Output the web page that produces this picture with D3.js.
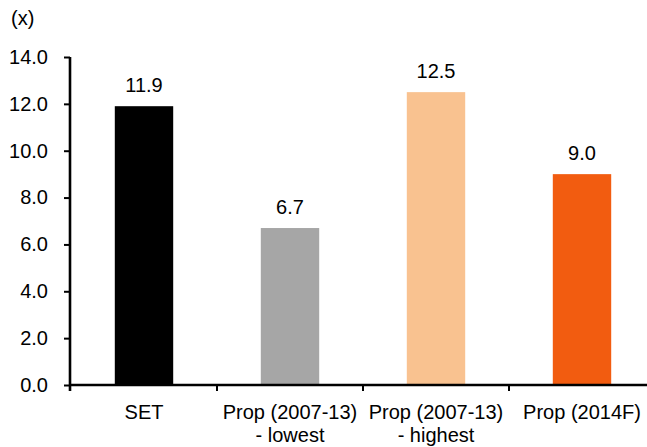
<!DOCTYPE html>
<html>
<head>
<meta charset="utf-8">
<script src="https://cdn.jsdelivr.net/npm/d3@7"></script>
<style>
  html, body { margin: 0; padding: 0; background: #fff; }
  svg { display: block; }
  text { font-family: "Liberation Sans", Arial, sans-serif; fill: #000; }
</style>
</head>
<body>
<svg id="chart" width="647" height="447"></svg>
<script>
// P/E multiples (x)
const categories = ["SET", "Prop (2007-13)|- lowest", "Prop (2007-13)|- highest", "Prop (2014F)"];
const values = [11.9, 6.7, 12.5, 9.0];
const barColors = ["#000000", "#a6a6a6", "#f9c290", "#f25c10"];
const yTicks = [0, 2, 4, 6, 8, 10, 12, 14];

const svg = d3.select("#chart");
const fontSize = 20;

const x = d3.scaleBand()
  .domain(categories)
  .range([71, 655])
  .paddingInner(0.6)
  .paddingOuter(0.3);

const y = d3.scaleLinear()
  .domain([0, 14])
  .range([385, 57]);

// bars
svg.append("g")
  .selectAll("rect")
  .data(categories)
  .join("rect")
  .attr("x", d => x(d))
  .attr("y", (d, i) => y(values[i]))
  .attr("width", x.bandwidth())
  .attr("height", (d, i) => y(0) - y(values[i]))
  .attr("fill", (d, i) => barColors[i]);

// value labels
svg.append("g")
  .selectAll("text")
  .data(categories)
  .join("text")
  .attr("x", d => x(d) + x.bandwidth() / 2)
  .attr("y", (d, i) => y(values[i]) - 14.5)
  .attr("text-anchor", "middle")
  .style("font-size", fontSize + "px")
  .text((d, i) => values[i].toFixed(1));

// y axis
const yAxis = svg.append("g")
  .attr("transform", `translate(${x.range()[0] - 1},0)`)
  .call(d3.axisLeft(y).tickValues(yTicks).tickSize(6).tickPadding(16).tickFormat(d3.format(".1f")));
yAxis.select(".domain")
  .attr("stroke", "#000")
  .attr("stroke-width", 2.6)
  .attr("d", `M0,${y(14)}V${y(0) + 6}`);
yAxis.selectAll(".tick line").attr("stroke", "#000").attr("stroke-width", 2);
yAxis.selectAll(".tick text")
  .style("font-size", fontSize + "px")
  .style("font-family", "'Liberation Sans', Arial, sans-serif")
  .attr("fill", "#000");

// x axis: line with ticks at category boundaries
const step = x.step();
const boundaries = categories.map(d => x(d) - step * x.paddingOuter());
const xAxis = svg.append("g");
xAxis.append("line")
  .attr("x1", x.range()[0] - 2)
  .attr("x2", 647)
  .attr("y1", y(0))
  .attr("y2", y(0))
  .attr("stroke", "#000")
  .attr("stroke-width", 2.6);
xAxis.selectAll("line.tk")
  .data(boundaries.slice(1))
  .join("line")
  .attr("class", "tk")
  .attr("x1", d => d).attr("x2", d => d)
  .attr("y1", y(0)).attr("y2", y(0) + 6)
  .attr("stroke", "#000")
  .attr("stroke-width", 2);

// category labels (two lines where needed)
const catLabels = xAxis.selectAll("text.cat")
  .data(categories)
  .join("text")
  .attr("class", "cat")
  .attr("text-anchor", "middle")
  .style("font-size", fontSize + "px")
  .attr("transform", d => `translate(${x(d) + x.bandwidth() / 2},419)`);
catLabels.selectAll("tspan")
  .data(d => d.split("|"))
  .join("tspan")
  .attr("x", 0)
  .attr("y", (d, i) => i * 23)
  .text(d => d);

// unit label
svg.append("text")
  .attr("x", 11)
  .attr("y", 25)
  .style("font-size", fontSize + "px")
  .text("(x)");
</script>
</body>
</html>
